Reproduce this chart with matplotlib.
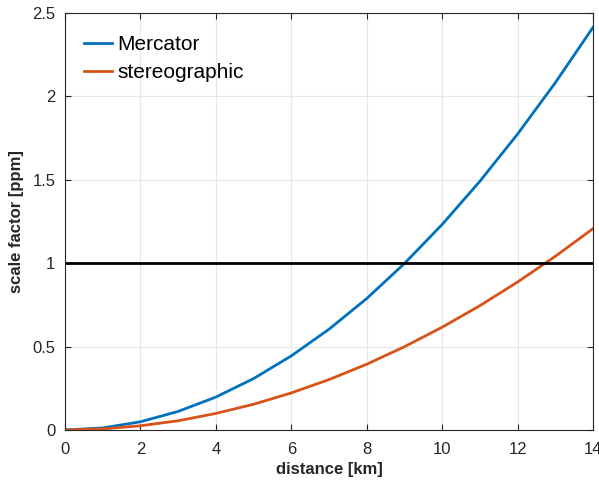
import matplotlib
matplotlib.use("Agg")
import matplotlib.pyplot as plt

distance = [0, 1, 2, 3, 4, 5, 6, 7, 8, 9, 10, 11, 12, 13, 14]
mercator = [0, 0.012, 0.049, 0.111, 0.197, 0.308, 0.444, 0.604, 0.788, 0.998, 1.232, 1.491, 1.774, 2.082, 2.414]
stereographic = [0, 0.006, 0.025, 0.055, 0.099, 0.154, 0.222, 0.302, 0.394, 0.499, 0.616, 0.745, 0.887, 1.041, 1.207]
ref_x = [0, 14]
ref_y = [1, 1]

plt.rcParams['font.family'] = ['Liberation Sans', 'DejaVu Sans']
fig = plt.figure(figsize=(5.99, 4.82), dpi=100)
ax = fig.add_axes([0.1085, 0.108, 0.8815, 0.865])

ax.plot(distance, mercator, color='#0072BD', lw=2, label='Mercator')
ax.plot(distance, stereographic, color='#D95319', lw=2, label='stereographic')
ax.plot(ref_x, ref_y, color='black', lw=2)

ax.set_xlim(0, 14)
ax.set_ylim(0, 2.5)
ax.set_xticks(range(0, 15, 2))
ax.set_yticks([0, 0.5, 1, 1.5, 2, 2.5])
ax.set_yticklabels(['0', '0.5', '1', '1.5', '2', '2.5'])
ax.grid(True, color='#e6e6e6', lw=0.8)
ax.set_axisbelow(True)
ax.tick_params(direction='in', top=True, right=True, labelsize=12, colors='#262626', length=4)
ax.tick_params(axis='x', pad=9)
ax.tick_params(axis='y', pad=7)
for s in ax.spines.values():
    s.set_color('#262626')
    s.set_linewidth(0.8)
ax.set_xlabel('distance [km]', fontsize=12, fontweight='bold', color='#262626', labelpad=3)
ax.set_ylabel('scale factor [ppm]', fontsize=12, fontweight='bold', color='#262626', labelpad=6)
ax.legend(loc='upper left', bbox_to_anchor=(0.036, 0.947), fontsize=15, frameon=False,
          handlelength=1.35, handletextpad=0.25, borderpad=0, borderaxespad=0, labelspacing=0.45)

fig.savefig('out.png', dpi=100)
